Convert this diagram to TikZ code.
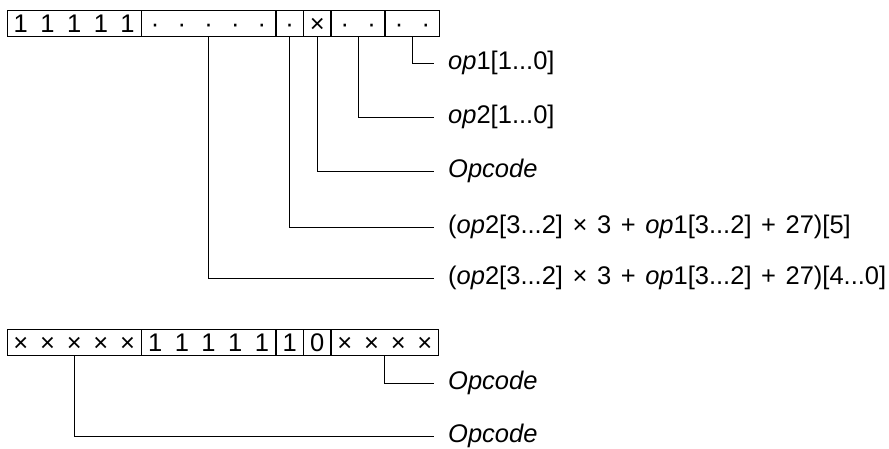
\documentclass[tikz,border=0pt]{standalone}
\usepackage{fontspec}
\setmainfont[WordSpace=1.35]{Liberation Sans}
\usetikzlibrary{positioning}
\newcommand\bitwd{26.7pt}
\newcommand\bitrow[1]{\foreach \bt in {#1}{\makebox[\bitwd]{\bt}}}

\begin{document}
\begin{tikzpicture}
[
x=1pt,y=-1pt,
font=\fontsize{25.5}{30}\selectfont,
field/.style={draw,line width=0.9pt,minimum width={#1*\bitwd},minimum height=\bitwd,inner sep=0pt,text height=18.3pt,text depth=0pt},
labl/.style={anchor=west,inner xsep=14pt,inner ysep=0pt,text height=13pt,text depth=0pt},
wire/.style={line width=0.9pt},
]
\useasboundingbox (0,0) rectangle (889,448);

%Place the nodes
\node[field=5,anchor=west] (a1) at (7,23.5) {\bitrow{1,1,1,1,1}};
\node[field=5,right=0pt of a1] (a2) {\bitrow{·,·,·,·,·}};
\node[field=1,right=0pt of a2] (a3) {\bitrow{·}};
\node[field=1,right=0pt of a3] (a4) {\bitrow{×}};
\node[field=2,right=0pt of a4] (a5) {\bitrow{·,·}};
\node[field=2,right=0pt of a5] (a6) {\bitrow{·,·}};

\node[labl] (l1) at (434,63) {\textit{op}1[1...0]};
\node[labl] (l2) at (434,117) {\textit{op}2[1...0]};
\node[labl] (l3) at (434,171) {\textit{Opcode}};
\node[labl] (l4) at (434,227) {(\textit{op}2[3...2] × 3 + \textit{op}1[3...2] + 27)[5]};
\node[labl] (l5) at (434,278) {(\textit{op}2[3...2] × 3 + \textit{op}1[3...2] + 27)[4...0]};

\node[field=5,anchor=west] (b1) at (7,342.5) {\bitrow{×,×,×,×,×}};
\node[field=5,right=0pt of b1] (b2) {\bitrow{1,1,1,1,1}};
\node[field=1,right=0pt of b2] (b3) {\bitrow{1}};
\node[field=1,right=0pt of b3] (b4) {\bitrow{0}};
\node[field=4,right=0pt of b4] (b5) {\bitrow{×,×,×,×}};

\node[labl] (m1) at (434,383) {\textit{Opcode}};
\node[labl] (m2) at (434,436) {\textit{Opcode}};

%Draw the connections
\draw[wire] (a6.south) |- (l1.west);
\draw[wire] (a5.south) |- (l2.west);
\draw[wire] (a4.south) |- (l3.west);
\draw[wire] (a3.south) |- (l4.west);
\draw[wire] (a2.south) |- (l5.west);
\draw[wire] (b5.south) |- (m1.west);
\draw[wire] (b1.south) |- (m2.west);
\end{tikzpicture}
\end{document}
